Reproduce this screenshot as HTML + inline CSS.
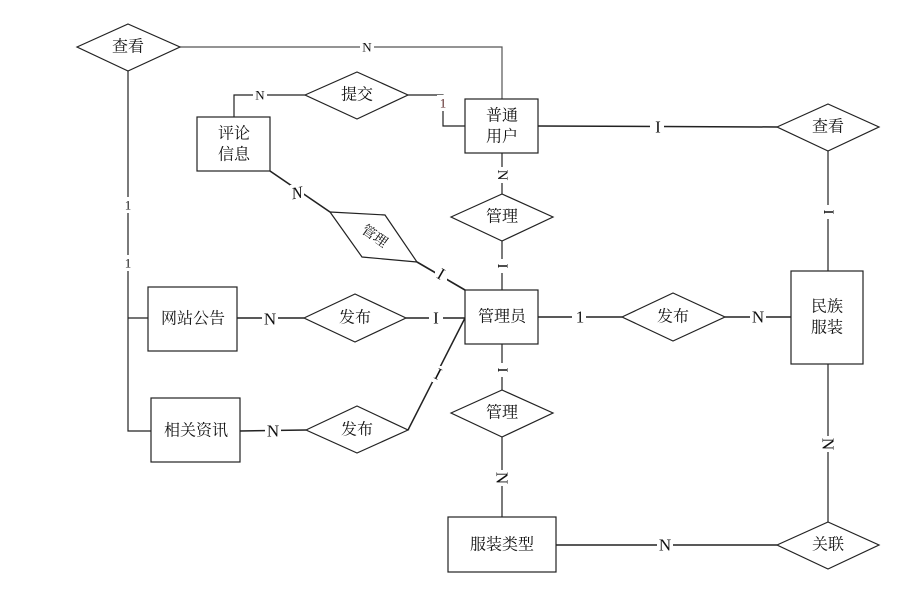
<!DOCTYPE html>
<html><head><meta charset="utf-8"><style>
html,body{margin:0;padding:0;background:#fff;}
svg{display:block;}
text{font-family:"Liberation Serif","Noto Serif CJK SC","Noto Sans CJK SC",serif;fill:#111;}
.c{font-size:16px;text-anchor:middle;dominant-baseline:central;}
.l{font-size:15px;text-anchor:middle;dominant-baseline:central;}
</style></head><body>
<svg width="908" height="595" viewBox="0 0 908 595" xmlns="http://www.w3.org/2000/svg">
<g fill="none" stroke="#222" stroke-width="1.2">
<polyline points="180,47 502,47 502,99" stroke="#555"/>
<polyline points="128,71 128,431 151,431"/>
<line x1="128" y1="318" x2="148" y2="318"/>
<polyline points="234,117 234,95 305,95"/>
<polyline points="408,95 443,95 443,126 465,126"/>
<line x1="502" y1="153" x2="502" y2="194"/>
<line x1="502" y1="241" x2="502" y2="290"/>
<line x1="270" y1="171" x2="330" y2="212" stroke-width="1.6"/>
<line x1="417" y1="262" x2="465" y2="290" stroke-width="1.6"/>
<line x1="538" y1="317" x2="622" y2="317" stroke-width="1.5"/>
<line x1="725" y1="317" x2="791" y2="317" stroke-width="1.5"/>
<line x1="828" y1="151" x2="828" y2="271"/>
<line x1="538" y1="126" x2="777" y2="127" stroke-width="1.5"/>
<line x1="828" y1="364" x2="828" y2="522"/>
<line x1="556" y1="545" x2="777" y2="545" stroke-width="1.5"/>
<line x1="502" y1="344" x2="502" y2="390"/>
<line x1="502" y1="437" x2="502" y2="517"/>
<line x1="237" y1="318" x2="304" y2="318" stroke-width="1.5"/>
<line x1="406" y1="318" x2="465" y2="318" stroke-width="1.5"/>
<line x1="240" y1="431" x2="306" y2="430" stroke-width="1.5"/>
<polyline points="408,430 465,318" stroke-width="1.5"/>
</g>
<g fill="#fff">
<rect x="360" y="39" width="14" height="16"/>
<rect x="253" y="87" width="14" height="16"/>
<rect x="437" y="95" width="12" height="16"/>
<rect x="494" y="167" width="16" height="16"/>
<rect x="494" y="259" width="16" height="14"/>
<rect x="121" y="197" width="14" height="16"/>
<rect x="121" y="255" width="14" height="16"/>
<rect x="650" y="119" width="14" height="16"/>
<rect x="820" y="205" width="16" height="14"/>
<rect x="572" y="309" width="14" height="16"/>
<rect x="750" y="309" width="16" height="16"/>
<rect x="820" y="436" width="16" height="16"/>
<rect x="657" y="537" width="16" height="16"/>
<rect x="494" y="363" width="16" height="14"/>
<rect x="494" y="470" width="16" height="16"/>
<rect x="262" y="310" width="16" height="16"/>
<rect x="429" y="310" width="14" height="16"/>
<rect x="265" y="423" width="16" height="16"/>
<rect x="290" y="185" width="14" height="16"/>
<rect x="435" y="266" width="12" height="16"/>
<rect x="432" y="366" width="12" height="16"/>
</g>
<g fill="#fff" stroke="#222" stroke-width="1.2">
<polygon points="77,47 128,24 180,47 128,71"/>
<polygon points="305,95 357,72 408,95 357,119"/>
<polygon points="451,217 502,194 553,217 502,241"/>
<polygon points="330,212 385,215 417,262 362,257"/>
<polygon points="304,318 355,294 406,318 355,342"/>
<polygon points="306,430 357,406 408,430 357,453"/>
<polygon points="451,413 502,390 553,413 502,437"/>
<polygon points="622,317 673,293 725,317 673,341"/>
<polygon points="777,127 828,104 879,127 828,151"/>
<polygon points="777,545 828,522 879,545 828,569"/>
<rect x="197" y="117" width="73" height="54"/>
<rect x="465" y="99" width="73" height="54"/>
<rect x="465" y="290" width="73" height="54"/>
<rect x="148" y="287" width="89" height="64"/>
<rect x="151" y="398" width="89" height="64"/>
<rect x="448" y="517" width="108" height="55"/>
<rect x="791" y="271" width="72" height="93"/>
</g>
<text class="c" x="128" y="47">查看</text>
<text class="c" x="357" y="95">提交</text>
<text class="c" x="502" y="217">管理</text>
<text class="c" x="374" y="237" transform="rotate(35 374 237)" style="font-size:14px">管理</text>
<text class="c" x="355" y="318">发布</text>
<text class="c" x="357" y="430">发布</text>
<text class="c" x="502" y="413">管理</text>
<text class="c" x="673" y="317">发布</text>
<text class="c" x="828" y="127">查看</text>
<text class="c" x="828" y="545">关联</text>
<text class="c" x="234" y="134">评论</text>
<text class="c" x="234" y="155">信息</text>
<text class="c" x="502" y="116">普通</text>
<text class="c" x="502" y="137">用户</text>
<text class="c" x="502" y="317">管理员</text>
<text class="c" x="193" y="319">网站公告</text>
<text class="c" x="196" y="431">相关资讯</text>
<text class="c" x="502" y="545">服装类型</text>
<text class="c" x="827" y="307">民族</text>
<text class="c" x="827" y="328">服装</text>
<text class="l" x="367" y="47" style="font-size:13px">N</text>
<text class="l" x="260" y="95" style="font-size:13px">N</text>
<text class="l" x="443" y="103" style="font-size:13px;fill:#522">1</text>
<text class="l" x="502" y="175" transform="rotate(90 502 175)">N</text>
<text class="l" x="502" y="266" transform="rotate(90 502 266)">I</text>
<text class="l" x="128" y="205" style="font-size:13px">1</text>
<text class="l" x="128" y="263" style="font-size:13px">1</text>
<text class="l" x="297" y="193" style="font-size:17px;font-style:italic" transform="rotate(-10 297 193)">N</text>
<text class="l" x="441" y="274" style="font-size:17px" transform="rotate(30 441 274)">I</text>
<text class="l" x="658" y="127" style="font-size:17px">I</text>
<text class="l" x="828" y="212" transform="rotate(90 828 212)">I</text>
<text class="l" x="580" y="317" style="font-size:17px">1</text>
<text class="l" x="758" y="317" style="font-size:17px">N</text>
<text class="l" x="828" y="444" transform="rotate(90 828 444)" style="font-size:17px">N</text>
<text class="l" x="665" y="545" style="font-size:17px">N</text>
<text class="l" x="502" y="370" transform="rotate(90 502 370)">I</text>
<text class="l" x="502" y="478" transform="rotate(90 502 478)" style="font-size:17px">N</text>
<text class="l" x="270" y="319" style="font-size:17px">N</text>
<text class="l" x="436" y="318" style="font-size:17px">I</text>
<text class="l" x="273" y="431" style="font-size:17px">N</text>
<text class="l" x="438" y="374" style="font-size:17px" transform="rotate(27 438 374)">I</text>
</svg>
</body></html>
